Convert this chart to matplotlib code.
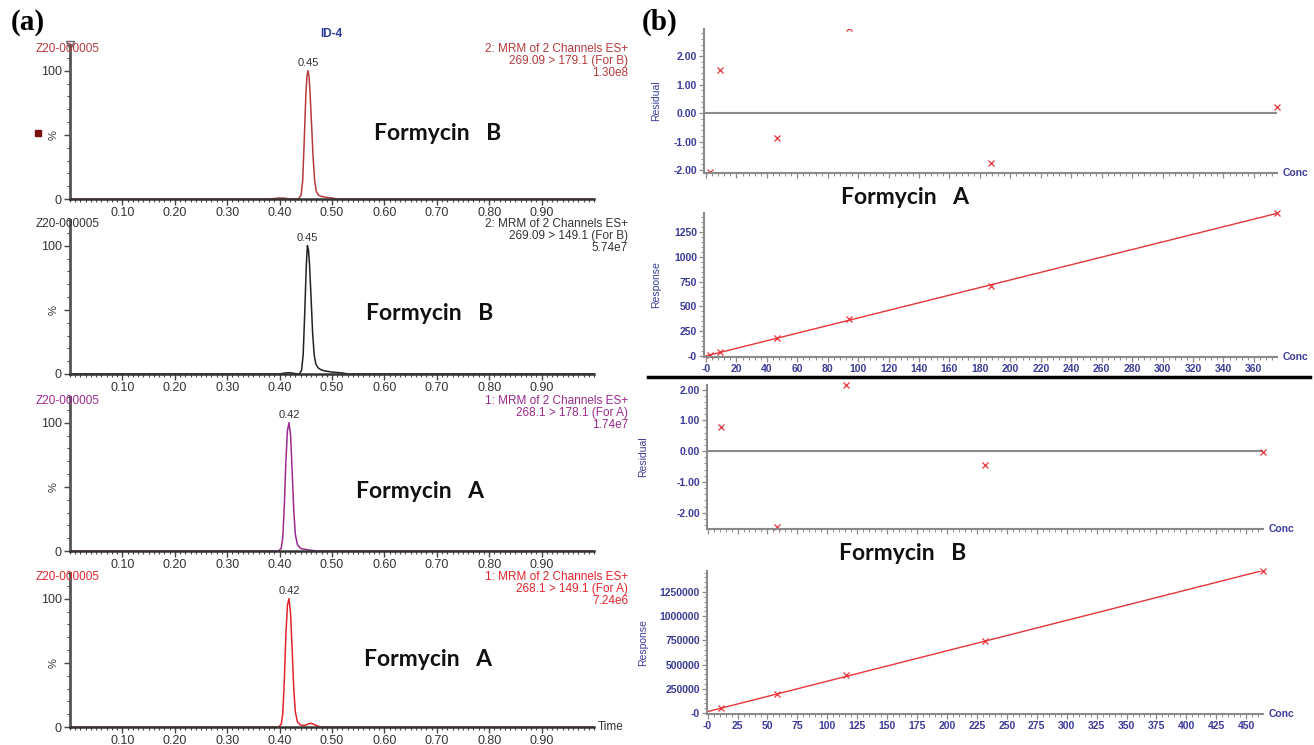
import numpy as np
import matplotlib
matplotlib.use("Agg")
import matplotlib.pyplot as plt
from matplotlib.ticker import FixedLocator, MultipleLocator, FixedFormatter, NullFormatter
from matplotlib.transforms import Bbox, TransformedBbox

plt.rcParams["font.family"] = ["Liberation Sans", "DejaVu Sans"]

W, H = 1314, 745

# ---- (a) chromatogram traces: retention time (min) vs relative intensity (%)
B179_time = [0.00, 0.38, 0.39, 0.40, 0.41, 0.42, 0.436, 0.441, 0.444, 0.447, 0.450, 0.452,
             0.454, 0.456, 0.458, 0.461, 0.464, 0.467, 0.470, 0.474, 0.48, 0.49, 0.50, 0.51, 1.00]
B179_int = [0, 0, 0.4, 0.8, 0.6, 0, 0, 3, 14, 45, 80, 95, 100, 96, 84, 58, 32, 14, 6, 3, 2,
            1.2, 0.8, 0, 0]

B149_time = [0.00, 0.40, 0.41, 0.42, 0.43, 0.438, 0.442, 0.445, 0.448, 0.451, 0.453, 0.455,
             0.457, 0.460, 0.463, 0.466, 0.469, 0.473, 0.478, 0.485, 0.50, 0.52, 0.53, 1.00]
B149_int = [0, 0, 0.8, 1.0, 0.3, 0, 3, 15, 48, 85, 100, 97, 86, 60, 32, 15, 8, 5, 3.5, 2.5,
            1.5, 0.8, 0, 0]

A178_time = [0.00, 0.398, 0.403, 0.406, 0.409, 0.412, 0.415, 0.418, 0.421, 0.424, 0.427,
             0.430, 0.434, 0.440, 0.45, 0.46, 0.47, 1.00]
A178_int = [0, 0, 2, 10, 35, 70, 94, 100, 90, 62, 32, 13, 5, 2, 1.2, 0.6, 0, 0]

A149_time = [0.00, 0.398, 0.403, 0.406, 0.409, 0.412, 0.415, 0.418, 0.421, 0.424, 0.427,
             0.430, 0.434, 0.440, 0.448, 0.455, 0.460, 0.465, 0.472, 0.48, 1.00]
A149_int = [0, 0, 2, 10, 36, 72, 95, 100, 88, 60, 30, 12, 4, 1.5, 1.2, 2.5, 2.8, 2.2, 0.8, 0, 0]

TIME_TICKS = [0.10, 0.20, 0.30, 0.40, 0.50, 0.60, 0.70, 0.80, 0.90]

# ---- (b) calibration data
concA = np.array([2.9, 9.4, 46.9, 93.8, 187.5, 375.0])
respA = np.array([11, 36, 181, 370, 705, 1441])
residA = np.array([-2.05, 1.50, -0.88, 2.98, -1.75, 0.20])

concB = np.array([11.6, 58.0, 116.0, 232.0, 464.0])
respB = np.array([48000, 192000, 388000, 745000, 1470000])
residB = np.array([0.78, -2.48, 2.14, -0.45, -0.03])

fig = plt.figure(figsize=(W / 100, H / 100), dpi=100)


def px_axes(x0, y0, x1, y1):
    return fig.add_axes([x0 / W, 1 - y1 / H, (x1 - x0) / W, (y1 - y0) / H])


# ---------------- panel (a) ----------------
chroms = [
    (B179_time, B179_int, "#b53a3c", "#b53a3c",
     "2: MRM of 2 Channels ES+\n269.09 > 179.1 (For B)\n1.30e8", 199, "Formycin   B", (438, 133)),
    (B149_time, B149_int, "#222222", "#333333",
     "2: MRM of 2 Channels ES+\n269.09 > 149.1 (For B)\n5.74e7", 374, "Formycin   B", (430, 314)),
    (A178_time, A178_int, "#9b2a8e", "#9b2a8e",
     "1: MRM of 2 Channels ES+\n268.1 > 178.1 (For A)\n1.74e7", 551, "Formycin   A", (420, 492)),
    (A149_time, A149_int, "#e3262c", "#e3262c",
     "1: MRM of 2 Channels ES+\n268.1 > 149.1 (For A)\n7.24e6", 727, "Formycin   A", (428, 660)),
]

for k, (t, inten, col, tcol, info, ybot, name, (nx, ny)) in enumerate(chroms):
    ax = px_axes(70, ybot - 154, 594, ybot)
    ax.plot(t, inten, color=col, lw=1.1)
    ax.set_xlim(0, 1.0)
    ax.set_ylim(0, 120)
    for s in ["top", "right"]:
        ax.spines[s].set_visible(False)
    ax.spines["left"].set_color("#555555")
    ax.spines["left"].set_linewidth(2.0)
    ax.spines["bottom"].set_color("#333333")
    ax.spines["bottom"].set_linewidth(1.8)
    ax.xaxis.set_major_locator(FixedLocator(TIME_TICKS))
    ax.xaxis.set_major_formatter(FixedFormatter([f"{v:.2f}" for v in TIME_TICKS]))
    ax.xaxis.set_minor_locator(MultipleLocator(0.01))
    ax.yaxis.set_major_locator(FixedLocator([0, 50, 100]))
    ax.yaxis.set_major_formatter(FixedFormatter(["0", "", "100"]))
    ax.yaxis.set_minor_locator(MultipleLocator(10))
    ax.tick_params(which="major", direction="out", length=4, width=1, color="#444444",
                   labelsize=9, labelcolor="#333333", pad=2)
    ax.tick_params(which="minor", direction="out", length=2.5, width=0.8, color="#444444")
    ax.text(-0.022, 50, "%", transform=ax.get_yaxis_transform(), rotation=90,
            ha="right", va="center", fontsize=8, color="#333333")

    ipk = int(np.argmax(inten))
    ax.annotate(f"{t[ipk]:.2f}", (t[ipk], inten[ipk]), xytext=(0, 2), textcoords="offset points",
                ha="center", va="bottom", fontsize=8, color="#333333")
    ax.text(1.065, 1.013, info, transform=ax.transAxes, ha="right", va="top",
            multialignment="right", fontsize=8.5, color=tcol, linespacing=1.0)
    ax.text(-0.065, 1.013, "Z20-000005", transform=ax.transAxes, ha="left", va="top",
            fontsize=8.5, color=tcol)
    fig.text(nx / W, 1 - ny / H, name, ha="center", va="center", fontsize=16.5,
             fontweight="bold", family="Lato", color="#111111")
    if k == 0:
        ax.plot([0], [1], marker="v", ms=6, mfc="white", mec="#666666", mew=1,
                transform=ax.transAxes, clip_on=False)
        ax.plot([38 / W], [1 - 133 / H], marker="s", ms=5, color="#7a1010",
                transform=fig.transFigure, clip_on=False)
    if k == 3:
        ax.text(1.008, 0, "Time", transform=ax.transAxes, ha="left", va="center",
                fontsize=8.5, color="#333333")

fig.text(331 / W, 1 - 34 / H, "ID-4", ha="center", va="center", fontsize=8.5,
         fontweight="bold", color="#2b3b9b")
fig.text(28 / W, 1 - 22 / H, "(a)", ha="center", va="center", fontsize=21,
         fontweight="bold", family="Liberation Serif")
fig.text(660 / W, 1 - 22 / H, "(b)", ha="center", va="center", fontsize=21,
         fontweight="bold", family="Liberation Serif")

# ---------------- panel (b) ----------------
BLUE = "#3b3b98"
GRAY = "#8a8a8a"
RED = "#e8353a"


def style_b(ax, xmaj, xmin, ymaj, ymin, xlabels, ylabels, label, labx):
    for s in ["top", "right"]:
        ax.spines[s].set_visible(False)
    for s in ["left", "bottom"]:
        ax.spines[s].set_color(GRAY)
        ax.spines[s].set_linewidth(1.5)
    ax.xaxis.set_major_locator(FixedLocator(xmaj))
    ax.xaxis.set_minor_locator(MultipleLocator(xmin))
    ax.yaxis.set_major_locator(FixedLocator(ymaj))
    ax.yaxis.set_minor_locator(MultipleLocator(ymin))
    if xlabels is None:
        ax.xaxis.set_major_formatter(NullFormatter())
    else:
        ax.xaxis.set_major_formatter(FixedFormatter(xlabels))
    ax.yaxis.set_major_formatter(FixedFormatter(ylabels))
    ax.tick_params(which="major", direction="out", length=3.5, width=0.9, color=GRAY,
                   labelsize=7.5, labelcolor=BLUE, pad=1.5)
    ax.tick_params(which="minor", direction="out", length=2, width=0.7, color=GRAY)
    for lab in ax.get_xticklabels() + ax.get_yticklabels():
        lab.set_fontweight("bold")
    ax.set_ylabel(label, fontsize=7.5, color=BLUE)
    ax.yaxis.set_label_coords(labx, 0.5)
    ax.text(1.01, 0, "Conc", transform=ax.transAxes, ha="left", va="center",
            fontsize=7.5, fontweight="bold", color=BLUE)


def resid_points(ax, conc, resid, ypad):
    # clip mostly at the top/bottom edges, let points at the right edge show fully
    pts, = ax.plot(conc, resid, "x", color=RED, ms=5, mew=0.9)
    pts.set_clip_box(TransformedBbox(Bbox([[-0.05, -ypad], [1.05, 1 + ypad]]), ax.transAxes))


resid_ticks = [-2, -1, 0, 1, 2]
resid_labels = ["-2.00", "-1.00", "0.00", "1.00", "2.00"]
xA_ticks = list(range(0, 361, 20))
xB_ticks = list(range(0, 451, 25))

# Formycin A residuals
ax = px_axes(704, 29, 1277, 173)
ax.axhline(0, color=GRAY, lw=1.5)
resid_points(ax, concA, residA, 0.0)
ax.set_xlim(-1.3, 375.2)
ax.set_ylim(-2.1, 2.95)
style_b(ax, xA_ticks, 4, resid_ticks, 0.2, None, resid_labels, "Residual", -0.075)

# Formycin A response
ax = px_axes(704, 213, 1277, 357)
fitA = np.polyfit(concA, respA, 1)
xlA = np.array([0, concA.max()])
ax.plot(xlA, np.polyval(fitA, xlA), color=RED, lw=1.0)
ax.plot(concA, respA, "x", color=RED, ms=5, mew=0.9, clip_on=False)
ax.set_xlim(-1.3, 375.2)
ax.set_ylim(-10, 1441)
style_b(ax, xA_ticks, 4, [0, 250, 500, 750, 1000, 1250], 50,
        ["-0"] + [str(v) for v in xA_ticks[1:]],
        ["-0", "250", "500", "750", "1000", "1250"], "Response", -0.075)

fig.add_artist(plt.Line2D([648 / W, 1310 / W], [1 - 377 / H, 1 - 377 / H], color="black", lw=2.5))
fig.text(905 / W, 1 - 198 / H, "Formycin   A", ha="center", va="center", fontsize=16.5,
         fontweight="bold", family="Lato", color="#111111")
fig.text(903 / W, 1 - 553 / H, "Formycin   B", ha="center", va="center", fontsize=16.5,
         fontweight="bold", family="Lato", color="#111111")

# Formycin B residuals
ax = px_axes(707, 385, 1263, 529)
ax.axhline(0, color=GRAY, lw=1.5)
resid_points(ax, concB, residB, 0.05)
ax.set_xlim(-0.5, 464)
ax.set_ylim(-2.53, 2.15)
style_b(ax, xB_ticks, 5, resid_ticks, 0.2, None, resid_labels, "Residual", -0.105)

# Formycin B response
ax = px_axes(707, 571, 1263, 714)
fitB = np.polyfit(concB, respB, 1)
xlB = np.array([0, concB.max()])
ax.plot(xlB, np.polyval(fitB, xlB), color=RED, lw=1.0)
ax.plot(concB, respB, "x", color=RED, ms=5, mew=0.9, clip_on=False)
ax.set_xlim(-0.5, 464)
ax.set_ylim(-10000, 1467000)
style_b(ax, xB_ticks, 5, [0, 250000, 500000, 750000, 1000000, 1250000], 50000,
        ["-0"] + [str(v) for v in xB_ticks[1:]],
        ["-0", "250000", "500000", "750000", "1000000", "1250000"], "Response", -0.105)

fig.savefig("out.png", dpi=100)
